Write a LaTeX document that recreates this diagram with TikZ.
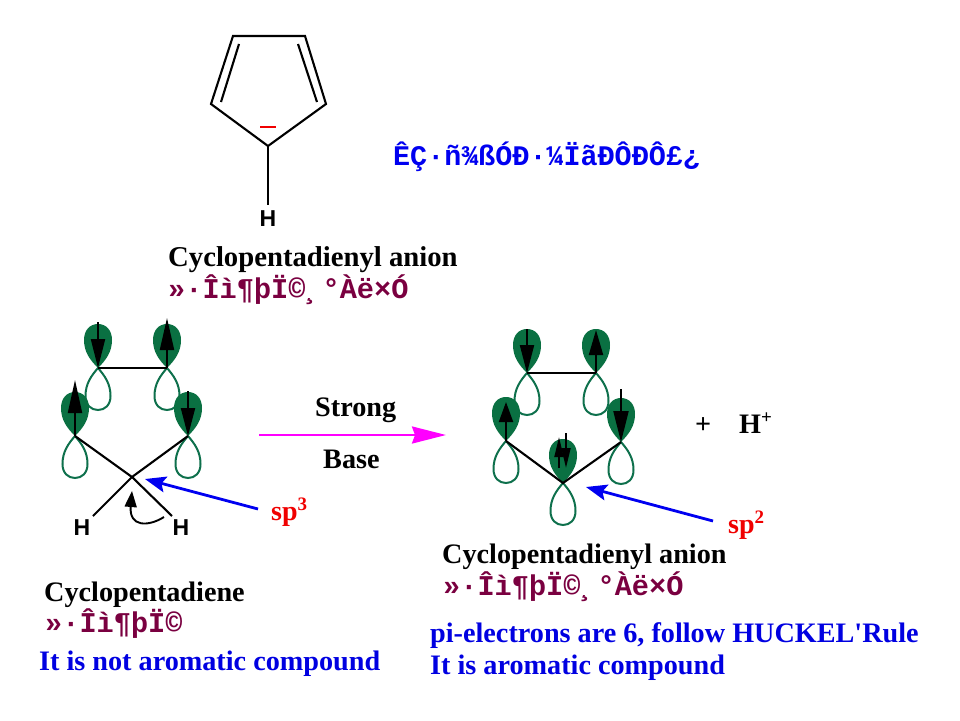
\documentclass[tikz,border=0pt]{standalone}
\usepackage{fontspec}
\setmainfont{Liberation Serif}
\newfontfamily\monof{Liberation Mono}
\newfontfamily\sansf{Liberation Sans}
\newfontfamily\plainserif{Liberation Serif}
\usetikzlibrary{arrows.meta}
\definecolor{orbgreen}{RGB}{10,112,66}
\definecolor{orbline}{RGB}{14,112,76}
\definecolor{maroonc}{RGB}{122,0,64}
\definecolor{bluec}{RGB}{0,0,225}
\definecolor{bluem}{RGB}{0,0,240}
\definecolor{pinkm}{RGB}{255,0,255}
\definecolor{redc}{RGB}{240,0,0}
\newcommand{\supr}[1]{\raisebox{9.5pt}{\fontsize{19}{19}\selectfont #1}}
\tikzset{
  x=1pt,y=-1pt,
  bond/.style={line width=2.1pt,black},
  orb/.pic={
    \draw[orbline,line width=2pt,fill=white] (0,0) .. controls (-7,8) and (-12.5,16) .. (-12.5,28) .. controls (-12.5,37) and (-7,42) .. (0,42) .. controls (7,42) and (12.5,37) .. (12.5,28) .. controls (12.5,16) and (7,8) .. (0,0) -- cycle;
    \fill[orbgreen] (0,0) .. controls (-8,-8) and (-14,-16) .. (-14,-28) .. controls (-14,-38) and (-8,-44) .. (0,-44) .. controls (8,-44) and (14,-38) .. (14,-28) .. controls (14,-16) and (8,-8) .. (0,0) -- cycle;
  },
  elec/.style={line width=2pt,black,-{Triangle[length=#1,width=14pt]}},
  elecs/.style={line width=1.8pt,black,-{Triangle[length=20pt,width=9pt]}},
  captxt/.style={anchor=base west,inner sep=0pt,font=\fontsize{28.2}{28.2}\selectfont\bfseries},
  mon/.style={anchor=base west,inner sep=0pt,text=maroonc,font=\fontsize{28.6}{28.6}\monof\bfseries},
  bluetxt/.style={anchor=base west,inner sep=0pt,text=bluec,font=\fontsize{28.2}{28.2}\plainserif\bfseries},
  redtxt/.style={anchor=base west,inner sep=0pt,text=redc,font=\fontsize{28}{28}\selectfont\bfseries},
  atomh/.style={inner sep=0pt,font=\fontsize{23}{23}\sansf\bfseries},
  bluearrow/.style={line width=2.8pt,bluem,-{Stealth[length=21pt,width=16pt,inset=4pt]}}
}
\begin{document}
\begin{tikzpicture}
\useasboundingbox (0,0) rectangle (960,720);
% top ring
\coordinate (r1) at (233,36);
\coordinate (r2) at (305,36);
\coordinate (r3) at (326,104);
\coordinate (r4) at (268,146);
\coordinate (r5) at (211,104);
\coordinate (d1) at (239,44);
\coordinate (d2) at (221,102);
\coordinate (d3) at (298,44);
\coordinate (d4) at (317,102);
\draw[bond,line join=miter] (r1)--(r2)--(r3)--(r4)--(r5)--cycle;
\draw[bond] (d1)--(d2);
\draw[bond] (d3)--(d4);
\node[atomh] (htop) at (268,219) {H};
\draw[bond] (r4)--(268,205);
\coordinate (m1) at (260,127);
\coordinate (m2) at (276,127);
\draw[line width=1.8pt,redc] (m1)--(m2);

% left molecule
\coordinate (a1) at (98,368);
\coordinate (a2) at (167,368);
\coordinate (a3) at (75,436);
\coordinate (a4) at (188,436);
\coordinate (a5) at (132,477);
\pic at (a1) {orb};
\pic at (a2) {orb};
\pic at (a3) {orb};
\pic at (a4) {orb};
\node[atomh] (hl) at (82,528) {H};
\node[atomh] (hr) at (181,528) {H};
\coordinate (hle) at (93,516);
\coordinate (hre) at (172,516);
\draw[bond] (a1)--(a2);
\draw[bond] (a3)--(a5)--(hre);
\draw[bond] (a4)--(a5)--(hle);
\coordinate (e1s) at (98,322);
\coordinate (e2s) at (167,368);
\coordinate (e2t) at (167,318);
\coordinate (e3t) at (75,380);
\coordinate (e4s) at (188,391);
\draw[elec=29pt] (e1s)--(a1);
\draw[elec=32pt] (e2s)--(e2t);
\draw[elec=33pt] (a3)--(e3t);
\draw[elec=28pt] (e4s)--(a4);
\coordinate (cs) at (164,517);
\coordinate (ct) at (132,491);
\draw[line width=1.9pt,black,-{Triangle[length=16pt,width=12pt]}] (cs) .. controls (148,527) and (129,527) .. (ct);
\coordinate (bl1) at (258,509);
\coordinate (bl2) at (145,479);
\draw[bluearrow] (bl1)--(bl2);
\node[redtxt] (sp3) at (271,520) {sp\supr{3}};

% reaction arrow
\coordinate (p1) at (259,435);
\coordinate (p2) at (446,435);
\draw[line width=2.4pt,pinkm,-{Stealth[length=34pt,width=17pt,inset=3pt]}] (p1)--(p2);
\node[captxt] (strong) at (315,416) {Strong};
\node[captxt] (base) at (323,468) {Base};

% right molecule
\coordinate (b1) at (527,373);
\coordinate (b2) at (596,373);
\coordinate (b3) at (506,441);
\coordinate (b4) at (621,442);
\coordinate (b5) at (563,483);
\pic at (b1) {orb};
\pic at (b2) {orb};
\pic at (b3) {orb};
\pic at (b4) {orb};
\pic at (b5) {orb};
\draw[bond] (b1)--(b2);
\draw[bond] (b3)--(b5)--(b4);
\coordinate (f1s) at (527,329);
\coordinate (f2t) at (596,330);
\coordinate (f3t) at (506,402);
\coordinate (f4s) at (621,389);
\draw[elec=28pt] (f1s)--(b1);
\draw[elec=25pt] (b2)--(f2t);
\draw[elec=20pt] (b3)--(f3t);
\draw[line width=2.1pt,black,-{Triangle[length=31pt,width=15pt]}] (f4s)--(b4);
\coordinate (g1s) at (559,468);
\coordinate (g1t) at (559,437);
\coordinate (g2s) at (566,433);
\coordinate (g2t) at (566,468);
\draw[elecs] (g1s)--(g1t);
\draw[elecs] (g2s)--(g2t);
\coordinate (bl3) at (713,521);
\coordinate (bl4) at (586,487);
\draw[bluearrow] (bl3)--(bl4);
\node[redtxt] (sp2) at (728,533) {sp\supr{2}};
\node[captxt] (plus) at (695,433) {+};
\node[captxt] (hplus) at (739,433) {H\supr{+}};

% texts
\node[anchor=base west,inner sep=0pt,text=bluem,font=\fontsize{28.4}{28.4}\monof\bfseries] (q) at (393,165) {ÊÇ·ñ¾ßÓÐ·¼ÏãÐÔÐÔ£¿};
\node[captxt,font=\fontsize{28.7}{28.7}\selectfont\bfseries] (t1) at (168,266) {Cyclopentadienyl anion};
\node[mon] (t2) at (168,298) {»·Îì¶þÏ©¸°Àë×Ó};
\node[captxt] (t3) at (44,601) {Cyclopentadiene};
\node[mon] (t4) at (45,632) {»·Îì¶þÏ©};
\node[bluetxt] (t5) at (39,670) {It is not aromatic compound};
\node[captxt] (t6) at (442,563) {Cyclopentadienyl anion};
\node[mon] (t7) at (443,595) {»·Îì¶þÏ©¸°Àë×Ó};
\node[bluetxt] (t8) at (430,642) {pi-electrons are 6, follow HUCKEL'Rule};
\node[bluetxt] (t9) at (430,674) {It is aromatic compound};
\end{tikzpicture}
\end{document}
